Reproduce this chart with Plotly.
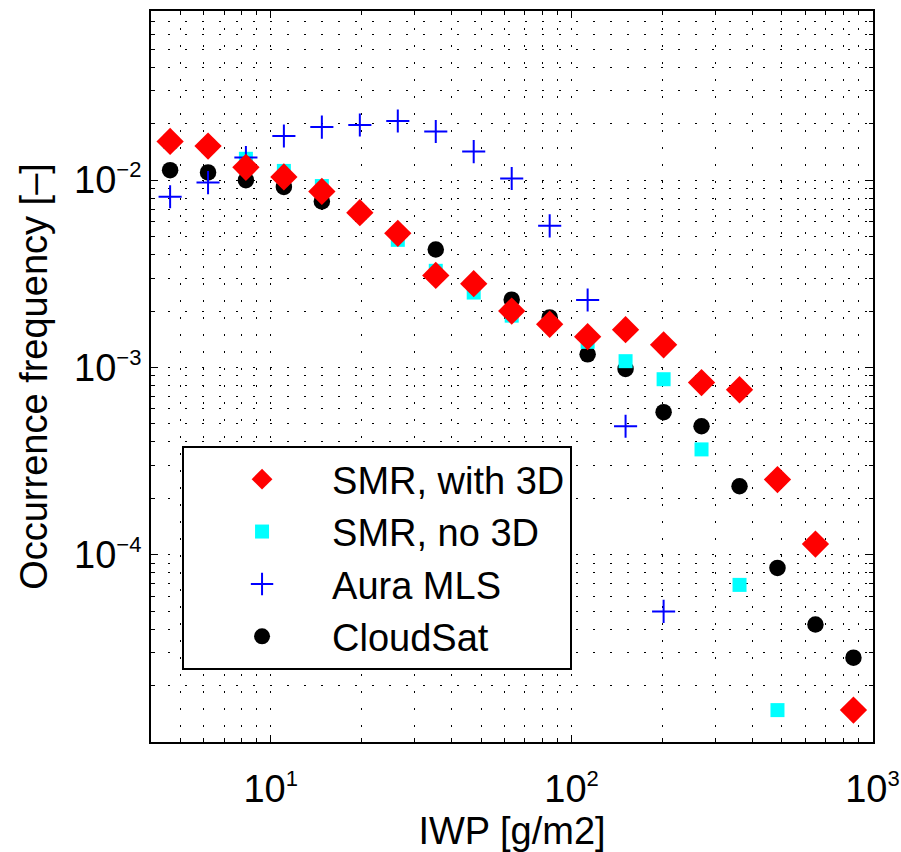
import numpy as np
import plotly.graph_objects as go

# IWP bin centres [g/m2]
iwp = [4.63, 6.19, 8.27, 11.06, 14.79, 19.78, 26.45, 35.37, 47.29, 63.25,
       84.58, 113.1, 151.2, 202.3, 270.4, 361.7, 483.6, 646.7, 865.0]

smr_3d = [0.0161, 0.0152, 0.0117, 0.0104, 0.0087, 0.0067, 0.0052, 0.0031, 0.0028, 0.0020,
          0.0017, 0.00146, 0.00159, 0.00132, 0.00083, 0.00076, 0.000252, 0.000114, 1.48e-5]

smr_no3d = [0.0160, 0.0152, 0.0130, 0.0112, 0.0093, 0.0067, 0.0048, 0.00328, 0.00251, 0.00189,
            0.0017, 0.00137, 0.00108, 0.000865, 0.000365, 6.9e-5, 1.48e-5, None, None]

aura_mls = [0.00815, 0.0097, 0.0132, 0.0172, 0.0192, 0.0197, 0.0207, 0.0182, 0.0142, 0.0102,
            0.0057, 0.00229, 0.000485, 4.98e-5, None, None, None, None, None]

cloudsat = [0.0113, 0.0110, 0.0100, 0.0092, 0.0077, 0.0067, 0.0052, 0.00426, 0.0028, 0.0023,
            0.00185, 0.001175, 0.000982, 0.000577, 0.000485, 0.000232, 8.5e-5, 4.24e-5, 2.82e-5]

x_ticks = [10, 100, 1000]
x_exp = ["1", "2", "3"]
y_ticks = [1e-4, 1e-3, 1e-2]
y_exp = ["\u22124", "\u22123", "\u22122"]

FONT = "Liberation Sans, Arial, Helvetica, sans-serif"


def power_label(e):
    return "10<sup><span style='font-size:22px'>" + e + "</span></sup>"


fig = go.Figure()
fig.add_trace(go.Scatter(x=iwp, y=cloudsat, mode="markers", name="CloudSat",
                         legendrank=4, legendgroup="d",
                         marker=dict(symbol="circle", size=16.5, color="black")))
fig.add_trace(go.Scatter(x=iwp, y=smr_no3d, mode="markers", name="SMR, no 3D",
                         legendrank=2, legendgroup="b",
                         marker=dict(symbol="square", size=14, color="#00ffff")))
fig.add_trace(go.Scatter(x=iwp, y=aura_mls, mode="markers", name="Aura MLS",
                         legendrank=3, legendgroup="c",
                         marker=dict(symbol="cross-thin", size=16.5,
                                     line=dict(color="#0000ff", width=2))))
fig.add_trace(go.Scatter(x=iwp, y=smr_3d, mode="markers", name="SMR, with 3D",
                         legendrank=1, legendgroup="a",
                         marker=dict(symbol="diamond", size=21, color="#ff0000")))

x_minor = [m * 10 ** e for e in range(0, 3) for m in range(2, 10) if 4 <= m * 10 ** e <= 1000]
y_minor = [m * 10.0 ** e for e in range(-5, -1) for m in range(2, 10) if m * 10.0 ** e <= 0.08]

axis_common = dict(
    showline=True, linecolor="black", linewidth=2, mirror="allticks",
    ticks="inside", ticklen=7, tickwidth=1, tickcolor="black",
    showgrid=True, gridcolor="black", gridwidth=1, griddash="2px,15px",
    zeroline=False, automargin=False,
    tickfont=dict(family=FONT, size=38, color="black"),
)

fig.update_xaxes(type="log", range=[np.log10(4), 3.002], tickmode="array",
                 tickvals=x_ticks, ticktext=[power_label(e) for e in x_exp],
                 ticklabelstandoff=12,
                 title=dict(text="IWP [g/m2]", font=dict(family=FONT, size=38, color="black"),
                            standoff=4),
                 minor=dict(tickmode="array", tickvals=x_minor, ticks="inside", ticklen=4,
                            tickcolor="black", showgrid=True, gridcolor="black",
                            gridwidth=1, griddash="2px,15px"),
                 **axis_common)
fig.update_yaxes(type="log", range=[np.log10(1.0e-5), np.log10(0.08)], tickmode="array",
                 tickvals=y_ticks, ticktext=[power_label(e) for e in y_exp],
                 title=dict(text="Occurrence frequency [\u2013]", font=dict(family=FONT, size=38, color="black")),
                 minor=dict(tickmode="array", tickvals=y_minor, ticks="inside", ticklen=4,
                            tickcolor="black", showgrid=True, gridcolor="black",
                            gridwidth=1, griddash="2px,15px"),
                 **axis_common)

fig.update_layout(
    width=901, height=852,
    margin=dict(l=151, r=28, t=11, b=110),
    paper_bgcolor="white", plot_bgcolor="white",
    font=dict(family=FONT, color="black"),
    showlegend=True,
    legend=dict(x=0.043, y=0.405, xanchor="left", yanchor="top",
                bgcolor="white", bordercolor="black", borderwidth=2,
                font=dict(family=FONT, size=38, color="black"),
                itemwidth=130, tracegroupgap=0, traceorder="grouped",
                indentation=8),
)

fig.write_html("out.html",
               config={"displayModeBar": False},
               post_script="document.body.style.margin='0';document.body.style.padding='0';")
